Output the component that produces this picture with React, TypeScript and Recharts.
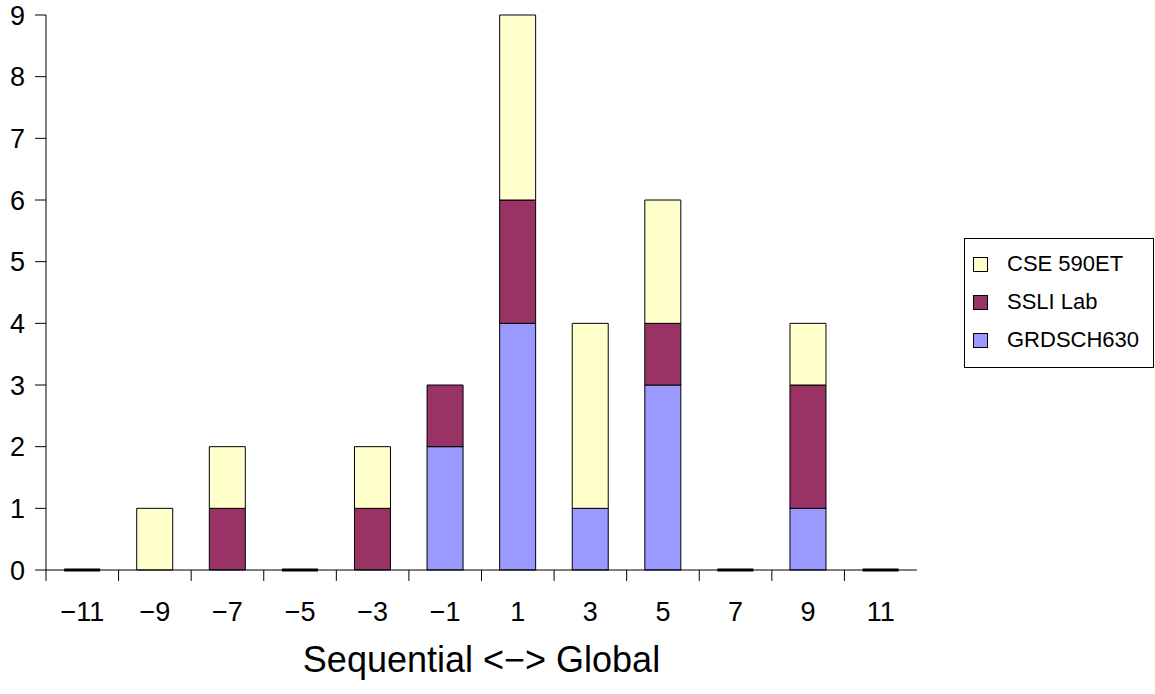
import React from "react";
import { BarChart, Bar, XAxis, YAxis } from "recharts";

const categories = ["−11", "−9", "−7", "−5", "−3", "−1", "1", "3", "5", "7", "9", "11"];
const grdsch630 = [0, 0, 0, 0, 0, 2, 4, 1, 3, 0, 1, 0];
const ssliLab = [0, 0, 1, 0, 1, 1, 2, 0, 1, 0, 2, 0];
const cse590et = [0, 1, 1, 0, 1, 0, 3, 3, 2, 0, 1, 0];
const yTicks = [0, 1, 2, 3, 4, 5, 6, 7, 8, 9];

const series = [
  { key: "cse", name: "CSE 590ET", color: "#FFFFCC" },
  { key: "ssli", name: "SSLI Lab", color: "#993366" },
  { key: "grd", name: "GRDSCH630", color: "#9999FF" },
];

const data = categories.map((c, i) => ({
  name: c,
  grd: grdsch630[i],
  ssli: ssliLab[i],
  cse: cse590et[i],
  total: grdsch630[i] + ssliLab[i] + cse590et[i],
}));

const FONT = "'Liberation Sans', Arial, sans-serif";
const BAND = (917 - 46) / categories.length;

// bottom series: draws a flat line where the whole column is empty
function BottomBar(props: any) {
  const { x, y, width, height, fill, payload } = props;
  if (!height || height <= 0) {
    if (payload && payload.total === 0) {
      return <line x1={x} x2={x + width} y1={y} y2={y} stroke="#000" strokeWidth={3} />;
    }
    return null;
  }
  return <rect x={x} y={y} width={width} height={height} fill={fill} stroke="#000" strokeWidth={1} />;
}

function XTick(props: any) {
  const { x, y, payload } = props;
  const left = x - BAND / 2;
  const axisY = y - 8;
  return (
    <g>
      <line x1={left} x2={left} y1={axisY} y2={axisY + 11} stroke="#000" />
      <text x={x} y={axisY + 51} textAnchor="middle" fontSize={27} fontFamily={FONT} fill="#000">
        {payload.value}
      </text>
    </g>
  );
}

function LegendBox() {
  return (
    <div
      style={{
        position: "absolute",
        left: 964,
        top: 238,
        border: "1px solid #000",
        width: 190,
        height: 130,
        boxSizing: "border-box",
        background: "#fff",
        paddingTop: 6,
        paddingLeft: 8,
        fontFamily: FONT,
        fontSize: 22,
        lineHeight: 1,
      }}
    >
      {series.map((s) => (
        <div key={s.key} style={{ display: "flex", alignItems: "center", height: 38 }}>
          <span
            style={{
              display: "inline-block",
              width: 13,
              height: 13,
              background: s.color,
              border: "1px solid #000",
              marginRight: 19,
            }}
          />
          <span>{s.name}</span>
        </div>
      ))}
    </div>
  );
}

export default function App() {
  return (
    <div style={{ position: "relative", width: 1155, height: 694, background: "#fff" }}>
      <style>{`body{margin:0;}`}</style>
      <BarChart
        width={1155}
        height={694}
        data={data}
        margin={{ top: 15, right: 238, left: 0, bottom: 0 }}
        barCategoryGap="25%"
      >
        <XAxis
          dataKey="name"
          height={124}
          tick={<XTick />}
          tickLine={false}
          axisLine={{ stroke: "#000" }}
          interval={0}
          label={{
            value: "Sequential <−> Global",
            position: "insideBottom",
            offset: 22,
            fontSize: 36,
            fontFamily: FONT,
            fill: "#000",
          }}
        />
        <YAxis
          width={46}
          domain={[0, 9]}
          ticks={yTicks}
          interval={0}
          tickLine={{ stroke: "#000" }}
          tickSize={11}
          tickMargin={10}
          axisLine={{ stroke: "#000" }}
          tick={{ fontSize: 27, fontFamily: FONT, fill: "#000" }}
        />
        <Bar dataKey="grd" name="GRDSCH630" stackId="a" fill="#9999FF" shape={<BottomBar />} isAnimationActive={false} />
        <Bar dataKey="ssli" name="SSLI Lab" stackId="a" fill="#993366" stroke="#000" strokeWidth={1} isAnimationActive={false} />
        <Bar dataKey="cse" name="CSE 590ET" stackId="a" fill="#FFFFCC" stroke="#000" strokeWidth={1} isAnimationActive={false} />
      </BarChart>
      <LegendBox />
    </div>
  );
}
